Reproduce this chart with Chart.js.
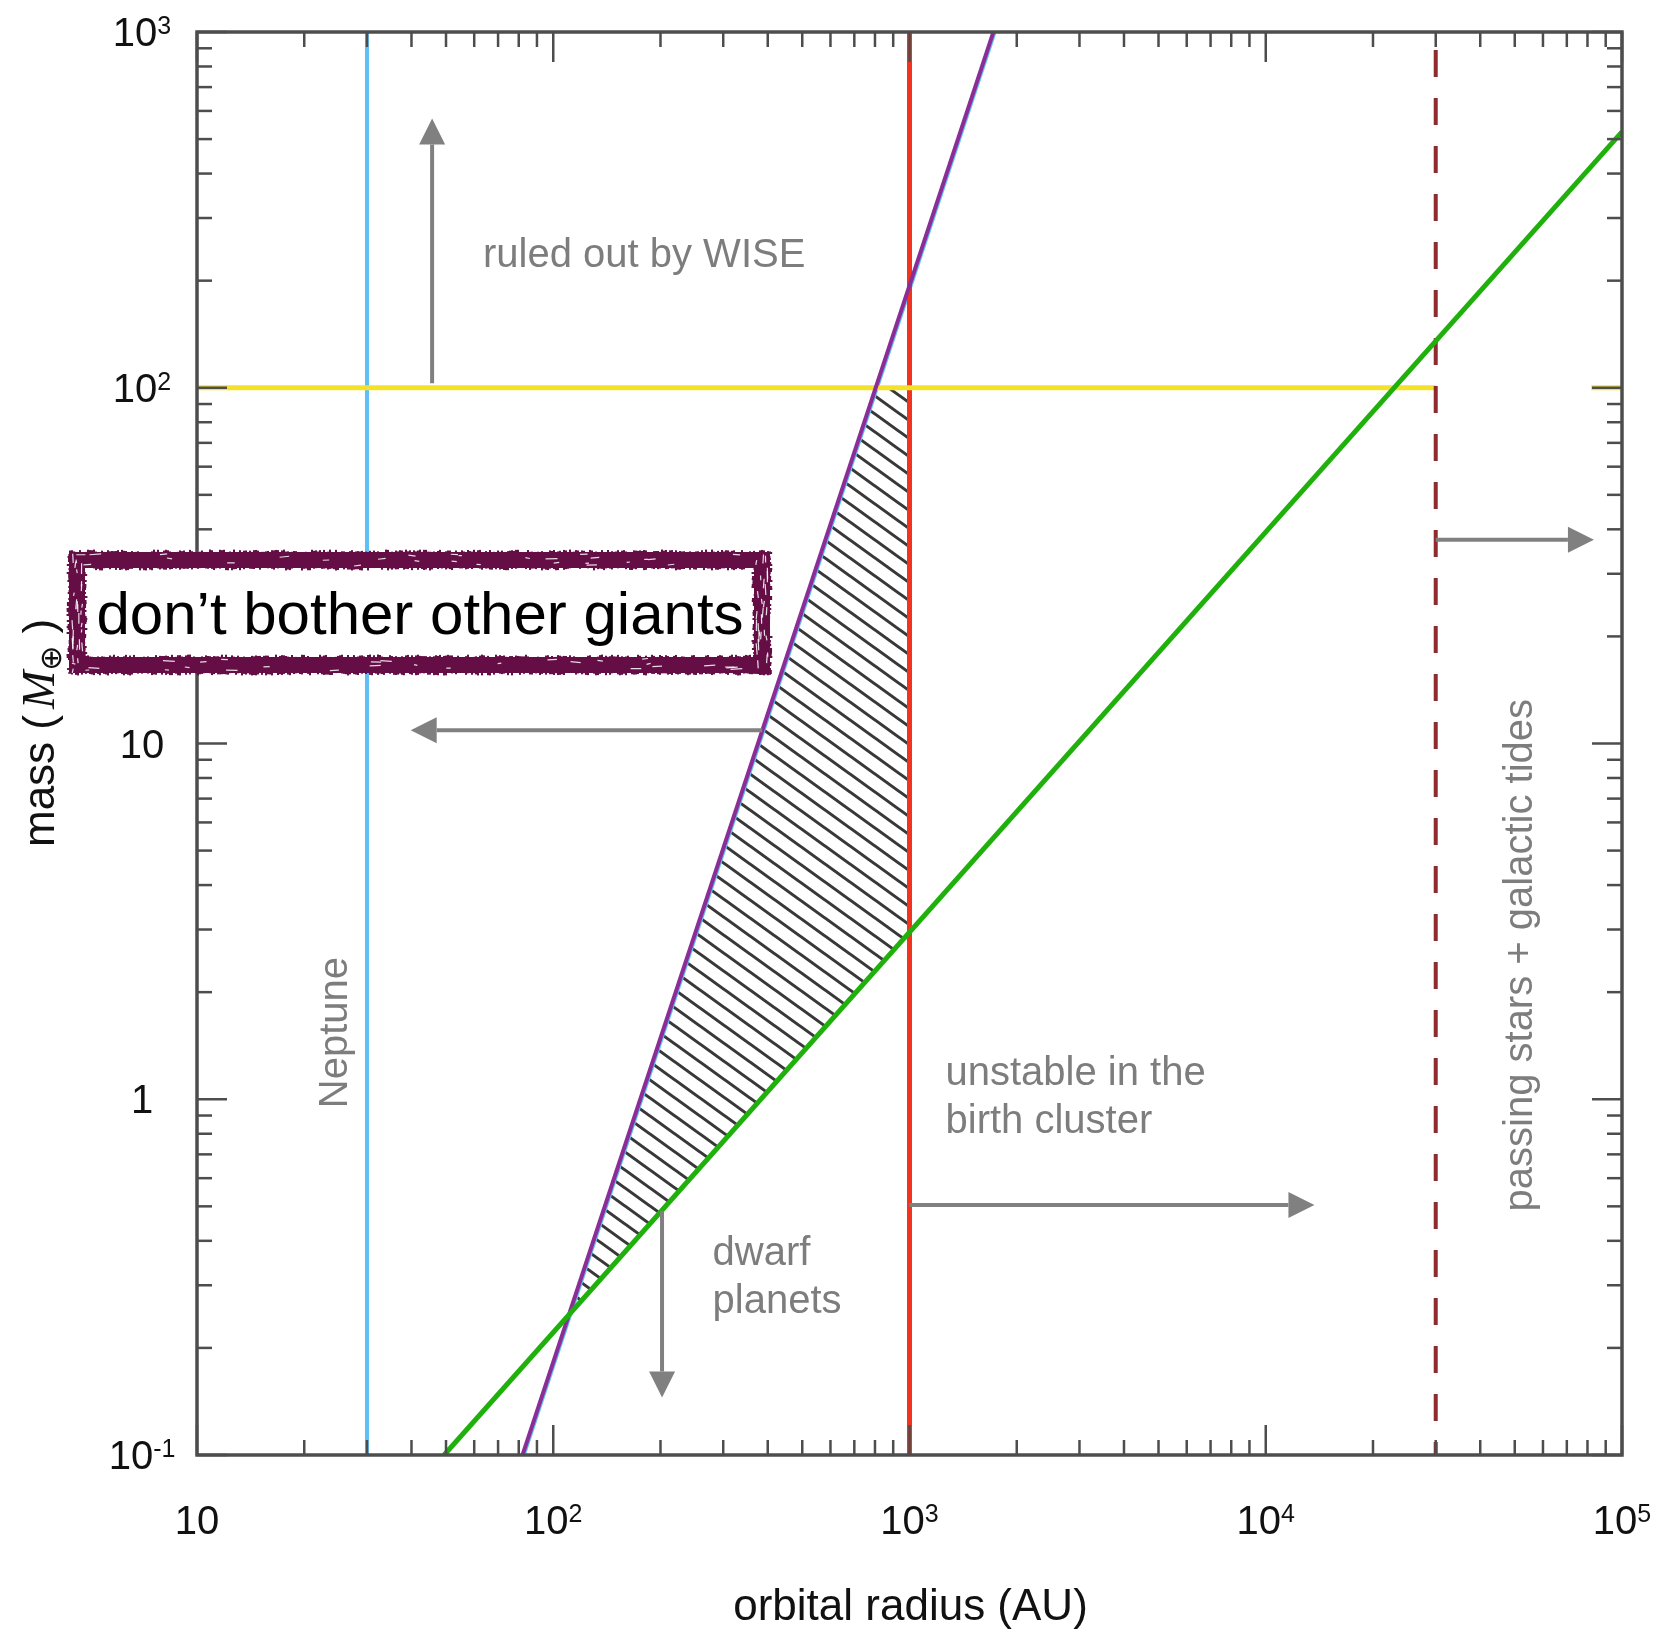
<!DOCTYPE html>
<html>
<head>
<meta charset="utf-8">
<script src="https://cdn.jsdelivr.net/npm/chart.js@4.4.1/dist/chart.umd.min.js"></script>
<style>
  html, body { margin: 0; padding: 0; background: #fff; }
</style>
</head>
<body>
<canvas id="chart" width="1659" height="1629"></canvas>
<script>
// ================= TICKS =================
const xTicks = [10, 100, 1000, 10000, 100000];
const xTickBase = ["10", "10", "10", "10", "10"];
const xTickSup = ["", "2", "3", "4", "5"];
const yTicks = [0.1, 1, 10, 100, 1000];
const yTickBase = ["10", "1", "10", "10", "10"];
const yTickSup = ["-1", "", "", "2", "3"];
const minorSteps = [2, 3, 4, 5, 6, 7, 8, 9];

// ================= LINES (AU, earth masses) =================
const neptune = [{x: 30, y: 0.1}, {x: 30, y: 1000}];
const birthCluster = [{x: 1000, y: 0.1}, {x: 1000, y: 1000}];
const galacticTides = [{x: 30000, y: 1000}, {x: 30000, y: 0.1}];
const wiseLimit = [{x: 10, y: 100}, {x: 30000, y: 100}];
const wiseLimitEnd = [{x: 82000, y: 100}, {x: 100000, y: 100}];
const giantsLimit = [{x: 82, y: 0.1}, {x: 1720, y: 1000}];
const giantsLimitEdge = [{x: 83.3, y: 0.1}, {x: 1748, y: 1000}];
const dwarfLimit = [{x: 49.4, y: 0.1}, {x: 100000, y: 524}];
const allowedRegion = [
  {x: 111, y: 0.25}, {x: 805, y: 100}, {x: 1000, y: 100},
  {x: 1000, y: 2.94}, {x: 111, y: 0.25}
];

// ================= ARROWS + NOTES =================
const arrows = [
  [[45.7, 103], [45.7, 571]],
  [[386, 10.9], [39.8, 10.9]],
  [[202, 0.486], [202, 0.145]],
  [[1000, 0.504], [13700, 0.504]],
  [[30000, 37.4], [83400, 37.4]]
];
const notes = [
  {lines: ["ruled out by WISE"], x: 63.5, y: 219, rot: false},
  {lines: ["unstable in the", "birth cluster"], x: 1262, y: 1.10, rot: false},
  {lines: ["dwarf", "planets"], x: 280, y: 0.342, rot: false},
  {lines: ["Neptune"], x: 26.4, y: 1.54, rot: true},
  {lines: ["passing stars + galactic tides"], x: 55800, y: 2.54, rot: true}
];

const FONT = '"Liberation Sans", Helvetica, Arial, sans-serif';
const AXIS = "#4d4d4d";
const GREY = "#7d7d7d";
const BOX = "#650e46";

// ================= HATCH =================
function hatchPattern() {
  const w = 25, h = 18;
  const c = document.createElement("canvas");
  c.width = w; c.height = h;
  const g = c.getContext("2d");
  g.strokeStyle = "#383838";
  g.lineWidth = 3;
  g.beginPath();
  [-1, 0, 1].forEach(k => {
    g.moveTo(-w, -h + k * h);
    g.lineTo(2 * w, 2 * h + k * h);
  });
  g.stroke();
  return g.createPattern(c, "repeat");
}

// ================= HELPERS =================
function noise(i) {
  const s = Math.sin(i * 12.9898 + 78.233) * 43758.5453;
  return s - Math.floor(s);
}

function drawArrow(ctx, x0, y0, x1, y1) {
  const ang = Math.atan2(y1 - y0, x1 - x0);
  const hl = 26, hw = 13;
  const bx = x1 - hl * Math.cos(ang), by = y1 - hl * Math.sin(ang);
  ctx.beginPath();
  ctx.moveTo(x0, y0);
  ctx.lineTo(bx, by);
  ctx.stroke();
  ctx.beginPath();
  ctx.moveTo(x1, y1);
  ctx.lineTo(bx + hw * Math.sin(ang), by - hw * Math.cos(ang));
  ctx.lineTo(bx - hw * Math.sin(ang), by + hw * Math.cos(ang));
  ctx.closePath();
  ctx.fill();
}

function supLabel(ctx, base, sup, cx, baseY) {
  ctx.font = "40px " + FONT;
  const wb = ctx.measureText(base).width;
  ctx.font = "25px " + FONT;
  const ws = sup ? ctx.measureText(sup).width : 0;
  const x0 = cx - (wb + ws) / 2;
  ctx.textAlign = "left";
  ctx.textBaseline = "alphabetic";
  ctx.font = "40px " + FONT;
  ctx.fillText(base, x0, baseY);
  if (sup) {
    ctx.font = "25px " + FONT;
    ctx.fillText(sup, x0 + wb, baseY - 12);
  }
}

function roughBox(ctx, x0, y0, x1, y1, t) {
  ctx.fillStyle = "#fff";
  ctx.fillRect(x0, y0, x1 - x0, y1 - y0);
  ctx.fillStyle = BOX;
  ctx.fillRect(x0, y0, x1 - x0, t);
  ctx.fillRect(x0, y1 - t, x1 - x0, t);
  ctx.fillRect(x0, y0, t, y1 - y0);
  ctx.fillRect(x1 - t, y0, t, y1 - y0);
  // ragged edges
  let k = 1;
  for (let x = x0; x < x1; x += 2) {
    const a = noise(k++) * 4 - 1.5, b = noise(k++) * 4 - 1.5;
    if (a > 0) ctx.fillRect(x, y0 - a, 2, a);
    if (b > 0) ctx.fillRect(x, y1, 2, b);
    const c = noise(k++) * 4 - 1.5, d = noise(k++) * 4 - 1.5;
    if (c > 0) ctx.fillRect(x, y0 + t, 2, c);
    if (d > 0) ctx.fillRect(x, y1 - t - d, 2, d);
  }
  for (let y = y0; y < y1; y += 2) {
    const a = noise(k++) * 4 - 1.5, b = noise(k++) * 4 - 1.5;
    if (a > 0) ctx.fillRect(x0 - a, y, a, 2);
    if (b > 0) ctx.fillRect(x1, y, b, 2);
    const c = noise(k++) * 4 - 1.5, d = noise(k++) * 4 - 1.5;
    if (c > 0) ctx.fillRect(x0 + t, y, c, 2);
    if (d > 0) ctx.fillRect(x1 - t - d, y, d, 2);
  }
  // white scratches in the band
  ctx.strokeStyle = "rgba(255,255,255,0.85)";
  ctx.lineWidth = 1.2;
  for (let i = 0; i < 110; i++) {
    const side = i % 4;
    const u = noise(k++), v = noise(k++), len = 3 + noise(k++) * 9;
    ctx.beginPath();
    if (side < 2) {
      const x = x0 + u * (x1 - x0 - len);
      const y = side === 0 ? y0 + 2 + v * (t - 4) : y1 - t + 2 + v * (t - 4);
      ctx.moveTo(x, y); ctx.lineTo(x + len, y + (noise(k++) - 0.5) * 2);
    } else {
      const y = y0 + u * (y1 - y0 - len);
      const x = side === 2 ? x0 + 2 + v * (t - 4) : x1 - t + 2 + v * (t - 4);
      ctx.moveTo(x, y); ctx.lineTo(x + (noise(k++) - 0.5) * 2, y + len);
    }
    ctx.stroke();
  }
}

// ================= OVERLAY PLUGIN =================
const overlay = {
  id: "overlay",
  afterDatasetsDraw(chart) {
    const ctx = chart.ctx;
    const a = chart.chartArea;
    const xs = chart.scales.x, ys = chart.scales.y;
    ctx.save();

    // arrows
    ctx.strokeStyle = "#808080";
    ctx.fillStyle = "#808080";
    ctx.lineWidth = 4;
    arrows.forEach(([p, q]) => {
      drawArrow(ctx, xs.getPixelForValue(p[0]), ys.getPixelForValue(p[1]),
                     xs.getPixelForValue(q[0]), ys.getPixelForValue(q[1]));
    });

    // notes
    ctx.fillStyle = GREY;
    ctx.font = "40px " + FONT;
    ctx.textBaseline = "alphabetic";
    notes.forEach(n => {
      const px = xs.getPixelForValue(n.x), py = ys.getPixelForValue(n.y);
      if (n.rot) {
        ctx.save();
        ctx.translate(px, py);
        ctx.rotate(-Math.PI / 2);
        ctx.textAlign = "center";
        ctx.fillText(n.lines[0], 0, 0);
        ctx.restore();
      } else {
        ctx.textAlign = "left";
        n.lines.forEach((s, i) => ctx.fillText(s, px, py + i * 48));
      }
    });

    // frame
    ctx.strokeStyle = AXIS;
    ctx.lineWidth = 3.5;
    ctx.strokeRect(a.left, a.top, a.right - a.left, a.bottom - a.top);

    // ticks
    ctx.lineWidth = 2.5;
    const tick = (px, py, dx, dy) => {
      ctx.beginPath(); ctx.moveTo(px, py); ctx.lineTo(px + dx, py + dy); ctx.stroke();
    };
    xTicks.forEach((v, i) => {
      const px = xs.getPixelForValue(v);
      tick(px, a.bottom, 0, -30); tick(px, a.top, 0, 30);
      if (i < xTicks.length - 1) minorSteps.forEach(m => {
        const q = xs.getPixelForValue(v * m);
        tick(q, a.bottom, 0, -15); tick(q, a.top, 0, 15);
      });
    });
    yTicks.forEach((v, i) => {
      const py = ys.getPixelForValue(v);
      tick(a.left, py, 30, 0); tick(a.right, py, -30, 0);
      if (i < yTicks.length - 1) minorSteps.forEach(m => {
        const q = ys.getPixelForValue(v * m);
        tick(a.left, q, 15, 0); tick(a.right, q, -15, 0);
      });
    });

    // tick labels
    ctx.fillStyle = "#111";
    xTicks.forEach((v, i) => supLabel(ctx, xTickBase[i], xTickSup[i], xs.getPixelForValue(v), a.bottom + 79));
    yTicks.forEach((v, i) => supLabel(ctx, yTickBase[i], yTickSup[i], a.left - 55, ys.getPixelForValue(v) + 14));

    // axis titles
    ctx.font = "44px " + FONT;
    ctx.textAlign = "center";
    ctx.fillText("orbital radius (AU)", (a.left + a.right) / 2 + 1, 1620);

    ctx.save();
    ctx.translate(54, 847);
    ctx.rotate(-Math.PI / 2);
    ctx.textAlign = "left";
    const sans = "44px " + FONT;
    const ital = 'italic 46px "Liberation Serif", "DejaVu Serif", serif';
    const sub = "30px \"DejaVu Sans\", sans-serif";
    let cx = 0;
    ctx.font = sans; ctx.fillText("mass (", cx, 0); cx += ctx.measureText("mass (").width + 6;
    ctx.font = ital; ctx.fillText("M", cx, 0); cx += ctx.measureText("M").width;
    ctx.font = sub; ctx.fillText("\u2295", cx, 7); cx += ctx.measureText("\u2295").width + 12;
    ctx.font = sans; ctx.fillText(")", cx, 0);
    ctx.restore();

    // callout box
    roughBox(ctx, 69, 552, 770, 673, 16);
    ctx.fillStyle = "#000";
    ctx.font = "60px " + FONT;
    ctx.textAlign = "center";
    ctx.fillText("don\u2019t bother other giants", 420, 634);

    ctx.restore();
  }
};

// ================= CHART =================
const line = (data, color, width, order, extra) => Object.assign({
  data, borderColor: color, borderWidth: width, showLine: true,
  pointRadius: 0, fill: false, order, clip: 0
}, extra || {});

new Chart(document.getElementById("chart"), {
  type: "scatter",
  data: {
    datasets: [
      line(allowedRegion, "rgba(0,0,0,0)", 0, 10, {fill: "shape", backgroundColor: hatchPattern()}),
      line(giantsLimitEdge, "#5cc0f7", 1.6, 9),
      line(neptune, "#5cc0f7", 4, 8),
      line(birthCluster, "#f2331f", 5, 7),
      line(wiseLimit, "#f5e02a", 5, 6),
      line(wiseLimitEnd, "#f5e02a", 5, 6),
      line(giantsLimit, "#8b2d96", 4, 5),
      line(galacticTides, "#8f2a2e", 4, 4, {borderDash: [27, 21], borderDashOffset: 30}),
      line(dwarfLimit, "#1fb00c", 5, 3)
    ]
  },
  options: {
    responsive: false,
    animation: false,
    layout: { padding: { left: 197, top: 32, right: 37, bottom: 174 } },
    plugins: { legend: { display: false }, tooltip: { enabled: false } },
    scales: {
      x: { type: "logarithmic", min: 10, max: 100000, display: false },
      y: { type: "logarithmic", min: 0.1, max: 1000, display: false }
    }
  },
  plugins: [overlay]
});
</script>
</body>
</html>
